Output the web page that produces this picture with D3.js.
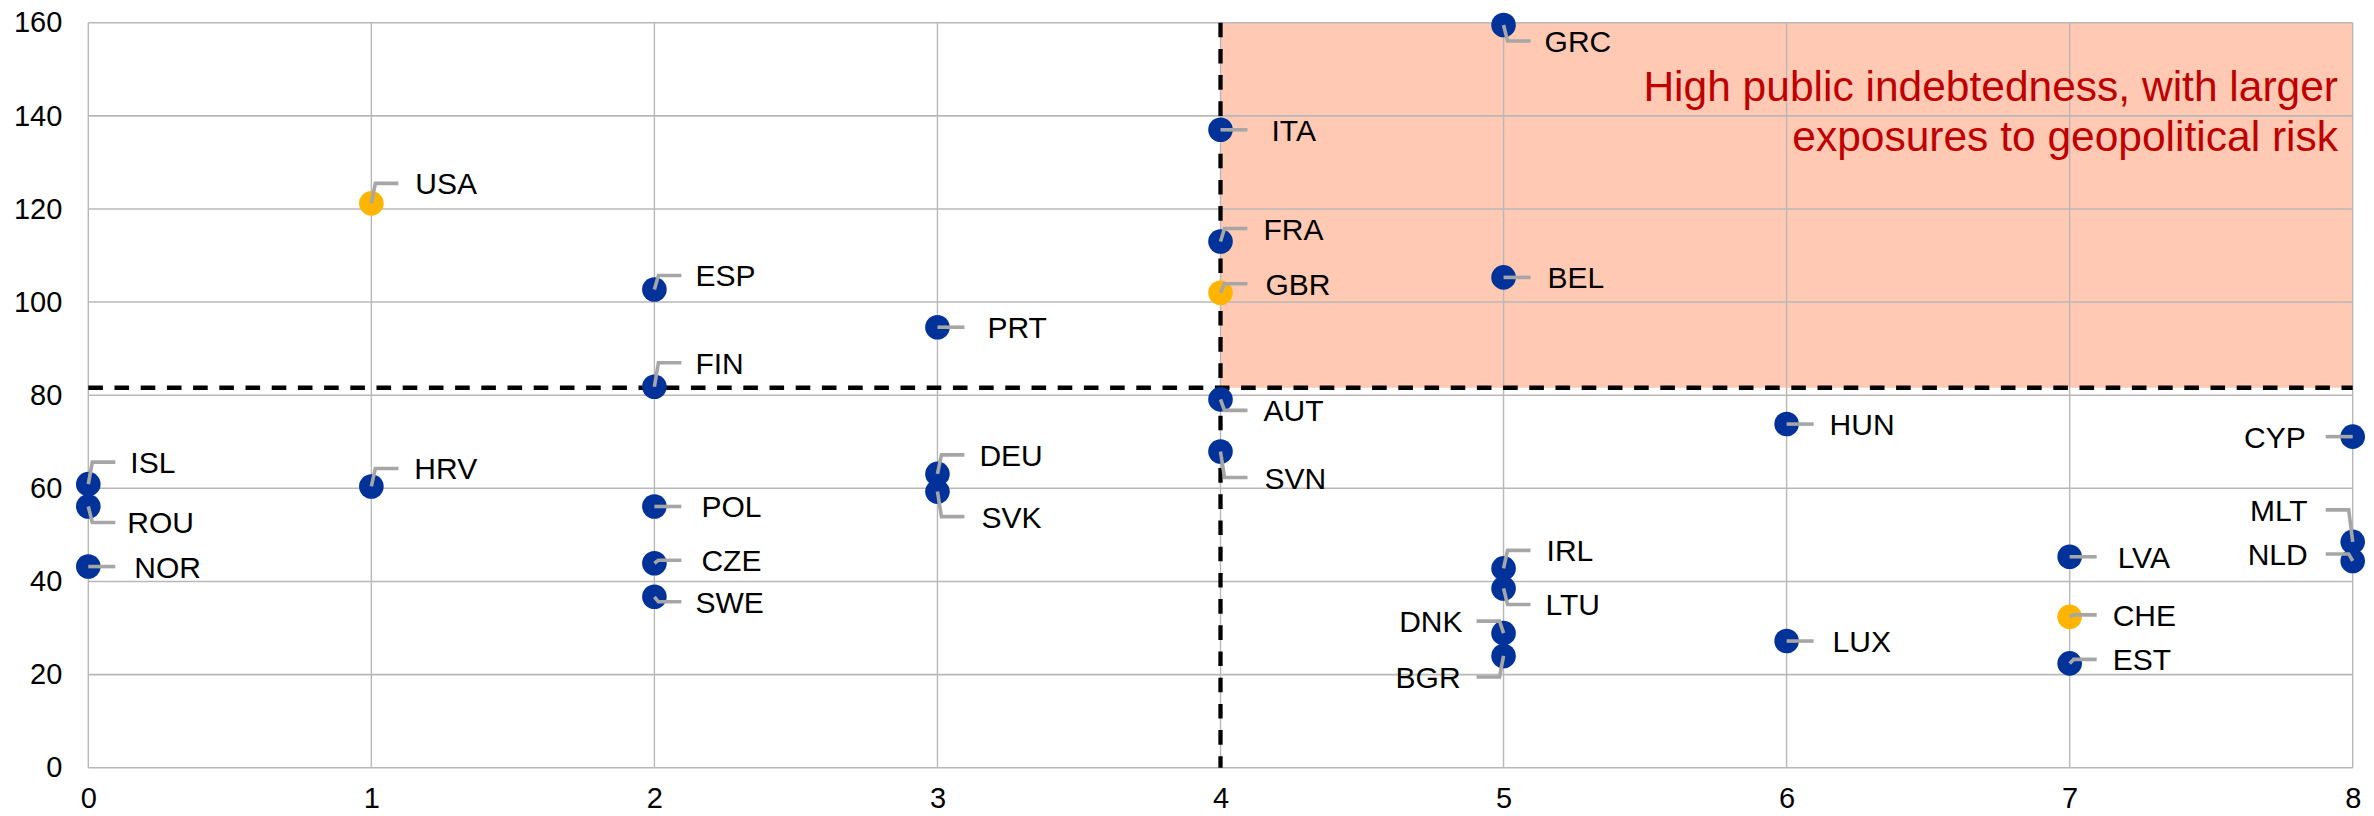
<!DOCTYPE html>
<html>
<head>
<meta charset="utf-8">
<script src="https://cdn.jsdelivr.net/npm/d3@7"></script>
<style>
  body { margin: 0; background: #fff; }
  svg { display: block; font-family: "Liberation Sans", Arial, sans-serif; }
</style>
</head>
<body>
<div id="chart"></div>
<script>
// data
const countries = ["ISL", "ROU", "NOR", "USA", "HRV", "ESP", "FIN", "POL", "CZE", "SWE",
  "PRT", "DEU", "SVK", "ITA", "FRA", "GBR", "AUT", "SVN", "GRC", "BEL", "IRL", "LTU",
  "DNK", "BGR", "HUN", "LUX", "LVA", "CHE", "EST", "CYP", "MLT", "NLD"];
const exposure = [0, 0, 0, 1, 1, 2, 2, 2, 2, 2,
  3, 3, 3, 4, 4, 4, 4, 4, 5, 5, 5, 5,
  5, 5, 6, 6, 7, 7, 7, 8, 8, 8];
const debt = [60.9, 56.1, 43.2, 121.2, 60.4, 102.7, 81.8, 56.1, 43.9, 36.7,
  94.6, 63.1, 59.3, 137.0, 113.0, 102.0, 79.1, 67.9, 159.5, 105.3, 42.8, 38.5,
  28.9, 24.0, 73.8, 27.2, 45.3, 32.4, 22.4, 71.1, 48.5, 44.4];
const nonEU = ["USA", "GBR", "CHE"];

const xTicks = [0, 1, 2, 3, 4, 5, 6, 7, 8];
const yTicks = [0, 20, 40, 60, 80, 100, 120, 140, 160];
const debtThreshold = 81.6;
const exposureThreshold = 4;
const noteLines = ["High public indebtedness, with larger", "exposures to geopolitical risk"];

// label placement: [text offset x, leader/label offset y] in px
const labelPos = {
  USA: [44, -20], ESP: [41, -14], FIN: [41, -24], ISL: [42, -22], ROU: [39, 16],
  NOR: [46, 0], HRV: [43, -18], POL: [47, 0], CZE: [47, -3], SWE: [41, 5],
  PRT: [50, 0], ITA: [51, 0], FRA: [43, -13], GBR: [45, -9], AUT: [43, 11],
  DEU: [42, -19], SVK: [44, 25], SVN: [44, 26], GRC: [41, 16], BEL: [44, 0],
  HUN: [43, 0], LUX: [46, 0], IRL: [43, -18], LTU: [42, 16], LVA: [48, 0],
  CHE: [43, -2], EST: [43, -4], CYP: [-47, 0], MLT: [-45, -32], NLD: [-45, -7],
  DNK: [-41, -12], BGR: [-43, 21]
};

const W = 2374, H = 816;
const margin = {top: 22.7, right: 21.3, bottom: 48.3, left: 88.3};
const width = W - margin.left - margin.right,
  height = H - margin.top - margin.bottom;

const data = countries.map((c, i) => ({name: c, x: exposure[i], y: debt[i]}));

const svg = d3.select("#chart").append("svg")
  .attr("width", W)
  .attr("height", H);
const g = svg.append("g")
  .attr("transform", "translate(" + margin.left + "," + margin.top + ")");

const x = d3.scaleLinear().domain([0, 8]).range([0, width]);
const y = d3.scaleLinear().domain([0, 160]).range([height, 0]);

// shaded quadrant
g.append("rect")
  .attr("x", x(exposureThreshold))
  .attr("y", y(160))
  .attr("width", x(8) - x(exposureThreshold))
  .attr("height", y(debtThreshold) - y(160))
  .attr("fill", "#ffc9b3");

// grid
g.selectAll(".hgrid").data(yTicks).enter().append("line")
  .attr("x1", 0).attr("x2", width)
  .attr("y1", d => y(d)).attr("y2", d => y(d))
  .attr("stroke", "#b8b8b8").attr("stroke-width", 1.6);
g.selectAll(".vgrid").data(xTicks).enter().append("line")
  .attr("y1", 0).attr("y2", height)
  .attr("x1", d => x(d)).attr("x2", d => x(d))
  .attr("stroke", "#b8b8b8").attr("stroke-width", 1.4);

// axes (labels only)
const yAxis = g.append("g")
  .call(d3.axisLeft(y).tickValues(yTicks).tickSize(0).tickPadding(26));
const xAxis = g.append("g")
  .attr("transform", "translate(0," + height + ")")
  .call(d3.axisBottom(x).tickValues(xTicks).tickSize(0).tickPadding(20));
[yAxis, xAxis].forEach(a => {
  a.select(".domain").remove();
  a.selectAll("text").attr("font-size", 29).attr("fill", "#000")
    .attr("font-family", "'Liberation Sans', Arial, sans-serif");
});

// threshold lines
g.append("line")
  .attr("x1", 0).attr("x2", width)
  .attr("y1", y(debtThreshold)).attr("y2", y(debtThreshold))
  .attr("stroke", "#000").attr("stroke-width", 4.3)
  .attr("stroke-dasharray", "14.6,11.6");
g.append("line")
  .attr("x1", x(exposureThreshold)).attr("x2", x(exposureThreshold))
  .attr("y1", 0).attr("y2", height)
  .attr("stroke", "#000").attr("stroke-width", 4.3)
  .attr("stroke-dasharray", "14.6,11.6");

// note
const note = g.append("text")
  .attr("text-anchor", "end")
  .attr("fill", "#c00000")
  .attr("font-size", 42.5);
noteLines.forEach((t, i) => {
  note.append("tspan")
    .attr("x", 2338 - margin.left)
    .attr("y", 101.5 - margin.top + i * 50)
    .text(t);
});

// dots
g.selectAll(".dot").data(data).enter().append("circle")
  .attr("cx", d => x(d.x))
  .attr("cy", d => y(d.y))
  .attr("r", 12.3)
  .attr("fill", d => nonEU.includes(d.name) ? "#ffb400" : "#003299");

// leader lines
g.selectAll(".leader").data(data).enter().append("polyline")
  .attr("fill", "none")
  .attr("stroke", "#a6a6a6")
  .attr("stroke-width", 3.6)
  .attr("points", d => {
    const p = labelPos[d.name], s = Math.sign(p[0]);
    const cx = x(d.x), cy = y(d.y);
    return [[cx, cy], [cx + s * 4, cy + p[1]], [cx + s * 27, cy + p[1]]].join(" ");
  });

// labels
g.selectAll(".label").data(data).enter().append("text")
  .attr("x", d => x(d.x) + labelPos[d.name][0])
  .attr("y", d => y(d.y) + labelPos[d.name][1] + 11)
  .attr("text-anchor", d => labelPos[d.name][0] < 0 ? "end" : "start")
  .attr("font-size", 30)
  .attr("fill", "#000")
  .text(d => d.name);
</script>
</body>
</html>
